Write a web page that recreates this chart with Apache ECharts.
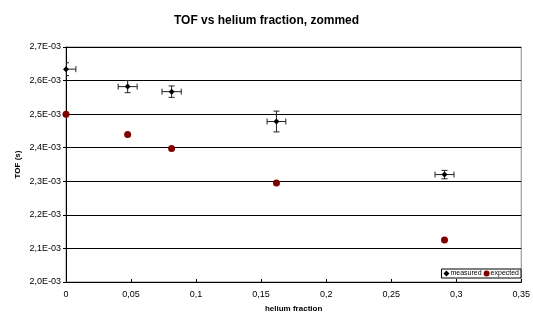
<!DOCTYPE html>
<html lang="en">
<head>
    <meta charset="UTF-8">
    <title>TOF vs helium fraction</title>
    <script src="https://cdn.jsdelivr.net/npm/echarts@6/dist/echarts.min.js"></script>
    <style>
        html, body { margin: 0; padding: 0; background: #fff; }
        #chart { width: 533px; height: 320px; }
    </style>
</head>
<body>
<div id="chart"></div>
<script>
    // measured points (helium fraction, TOF in s) with their error bars
    const measuredX = [0, 0.0474, 0.0812, 0.1618, 0.291];
    const measuredY = [0.002634, 0.002582, 0.002567, 0.002478, 0.002320];
    const measuredXErr = [0.0076, 0.0073, 0.0074, 0.0072, 0.0073];
    const measuredYErr = [0.000019, 0.000018, 0.000017, 0.000031, 0.0000125];

    // expected values
    const expectedX = [0, 0.0474, 0.0812, 0.1618, 0.291];
    const expectedY = [0.002500, 0.002439, 0.002398, 0.002295, 0.002125];

    const font = 'Liberation Sans, Arial, sans-serif';

    function fmtY(v) {
        return (v * 1000).toFixed(1).replace('.', ',') + 'E-03';
    }
    function fmtX(v) {
        return String(Number(v.toFixed(2))).replace('.', ',');
    }

    const measuredData = measuredX.map((x, i) => [x, measuredY[i]]);
    const errData = measuredX.map((x, i) => [x, measuredY[i], measuredXErr[i], measuredYErr[i]]);
    const expectedData = expectedX.map((x, i) => [x, expectedY[i]]);

    const chart = echarts.init(document.getElementById('chart'));
    chart.setOption({
        animation: false,
        title: {
            text: 'TOF vs helium fraction, zommed',
            left: 'center',
            top: 10,
            textStyle: { fontFamily: font, fontSize: 12, fontWeight: 'bold', color: '#000' }
        },
        grid: {
            left: 66, right: 11, top: 47, bottom: 38,
            show: true, borderColor: '#888', borderWidth: 1, backgroundColor: '#fff'
        },
        legend: {
            right: 12, bottom: 42,
            orient: 'horizontal',
            data: ['measured', 'expected'],
            itemWidth: 6, itemHeight: 6, itemGap: 2,
            padding: [1, 2, 1, 2],
            borderColor: '#000', borderWidth: 1, borderRadius: 0,
            backgroundColor: '#fff',
            textStyle: { fontFamily: font, fontSize: 7, color: '#000', padding: [0, 0, 0, -4] }
        },
        xAxis: {
            type: 'value',
            min: 0, max: 0.35, interval: 0.05,
            name: 'helium fraction',
            nameLocation: 'middle',
            nameGap: 23,
            nameTextStyle: { fontFamily: font, fontSize: 8, fontWeight: 'bold', color: '#000' },
            axisLine: { lineStyle: { color: '#000' } },
            axisTick: { show: true, length: 3, inside: true, lineStyle: { color: '#000' } },
            axisLabel: { fontFamily: font, fontSize: 9, color: '#000', margin: 8, formatter: fmtX },
            splitLine: { show: false }
        },
        yAxis: {
            type: 'value',
            min: 0.002, max: 0.0027, interval: 0.0001,
            name: 'TOF (s)',
            nameLocation: 'middle',
            nameGap: 44,
            nameMoveOverlap: false,
            nameRotate: 90,
            nameTextStyle: { fontFamily: font, fontSize: 8, fontWeight: 'bold', color: '#000' },
            axisLine: { show: true, lineStyle: { color: '#000' } },
            axisTick: { show: true, length: 3, lineStyle: { color: '#000' } },
            axisLabel: { fontFamily: font, fontSize: 9, color: '#000', margin: 5, formatter: fmtY },
            splitLine: { show: true, lineStyle: { color: '#000', width: 1 } }
        },
        series: [
            {
                name: 'errors',
                type: 'custom',
                z: 3,
                clip: true,
                renderItem: function (params, api) {
                    const x = api.value(0), y = api.value(1);
                    const dx = api.value(2), dy = api.value(3);
                    const c = api.coord([x, y]);
                    const left = api.coord([x - dx, y]);
                    const right = api.coord([x + dx, y]);
                    const top = api.coord([x, y + dy]);
                    const bot = api.coord([x, y - dy]);
                    const cap = 3;
                    const style = { stroke: '#222', lineWidth: 1 };
                    const lines = [
                        [left[0], c[1], right[0], c[1]],
                        [left[0], c[1] - cap, left[0], c[1] + cap],
                        [right[0], c[1] - cap, right[0], c[1] + cap],
                        [c[0], top[1], c[0], bot[1]],
                        [c[0] - cap, top[1], c[0] + cap, top[1]],
                        [c[0] - cap, bot[1], c[0] + cap, bot[1]]
                    ];
                    return {
                        type: 'group',
                        children: lines.map(l => ({
                            type: 'line',
                            shape: { x1: l[0], y1: l[1], x2: l[2], y2: l[3] },
                            style: style
                        }))
                    };
                },
                data: errData
            },
            {
                name: 'measured',
                type: 'scatter',
                z: 4,
                symbol: 'diamond',
                symbolSize: 6,
                clip: false,
                itemStyle: { color: '#000', opacity: 1 },
                data: measuredData
            },
            {
                name: 'expected',
                type: 'scatter',
                z: 4,
                symbol: 'circle',
                symbolSize: 7,
                clip: false,
                itemStyle: { color: '#800000', opacity: 1 },
                data: expectedData
            }
        ]
    });
</script>
</body>
</html>
